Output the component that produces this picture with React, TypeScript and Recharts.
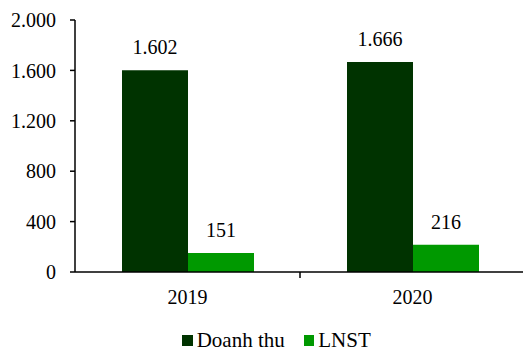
import { BarChart, Bar, XAxis, YAxis, Legend, LabelList } from 'recharts';

const years = ['2019', '2020'];
const doanhThu = [1602, 1666];
const lnst = [151, 216];
const yTicks = [0, 400, 800, 1200, 1600, 2000];

const data = years.map((y, i) => ({ name: y, dt: doanhThu[i], ln: lnst[i] }));

const fmt = (v: number) => v.toLocaleString('de-DE');
const font = "'Times New Roman', 'Liberation Serif', serif";

const XTick = (props: any) => {
  const { x, y, payload, index } = props;
  const off = payload && payload.offset ? payload.offset : 0;
  return (
    <g>
      {index === 0 && off ? (
        <line x1={x + off} x2={x + off} y1={y - 8} y2={y - 2} stroke="#000" strokeWidth={1.5} />
      ) : null}
      <text x={x} y={y + 24} textAnchor="middle" fill="#000" style={{ fontSize: 20, fontFamily: font }}>
        {payload.value}
      </text>
    </g>
  );
};

const LegendBox = (props: any) => {
  const items = props.payload || [];
  return (
    <div style={{ display: 'flex', justifyContent: 'center', gap: 19, paddingLeft: 26, fontFamily: font, fontSize: 21, color: '#000' }}>
      {items.map((it: any) => (
        <div key={it.value} style={{ display: 'flex', alignItems: 'center' }}>
          <span style={{ width: 10.5, height: 10.5, background: it.color, marginRight: 4, display: 'inline-block' }} />
          <span>{it.value}</span>
        </div>
      ))}
    </div>
  );
};

const App = () => {
  return (
    <div style={{ position: 'absolute', left: 0, top: 0, background: '#fff', fontFamily: font }}>
      <BarChart
        width={523}
        height={354}
        data={data}
        margin={{ top: 20, right: -2, left: 2, bottom: 0 }}
        barCategoryGap={47}
        barGap={0}
        style={{ fontFamily: font }}
      >
        <XAxis
          dataKey="name"
          tickLine={false}
          axisLine={{ stroke: '#000', strokeWidth: 1.5 }}
          tick={<XTick />}
          height={56}
        />
        <YAxis
          domain={[0, 2000]}
          ticks={yTicks}
          width={73}
          tickFormatter={fmt}
          tickSize={5}
          tickMargin={14}
          axisLine={{ stroke: '#000', strokeWidth: 1.5 }}
          tickLine={{ stroke: '#000', strokeWidth: 1.5 }}
          tick={{ fill: '#000', fontSize: 20, style: { fontFamily: font } }}
        />
        <Legend verticalAlign="bottom" height={26} content={<LegendBox />} />
        <Bar dataKey="dt" name="Doanh thu" fill="#003300" isAnimationActive={false}>
          <LabelList dataKey="dt" position="top" offset={16} formatter={(v: any) => fmt(Number(v))} fill="#000" fontSize={20} style={{ fontFamily: font }} />
        </Bar>
        <Bar dataKey="ln" name="LNST" fill="#009900" isAnimationActive={false}>
          <LabelList dataKey="ln" position="top" offset={16} formatter={(v: any) => fmt(Number(v))} fill="#000" fontSize={20} style={{ fontFamily: font }} />
        </Bar>
      </BarChart>
    </div>
  );
};

export default App;
